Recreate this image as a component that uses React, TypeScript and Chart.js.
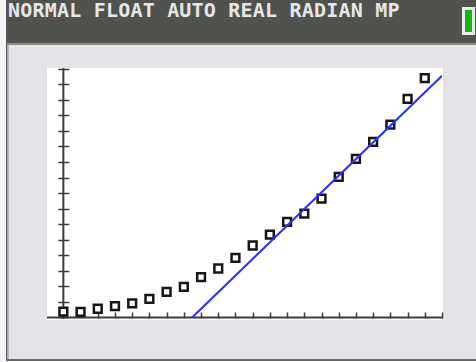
import React, { useEffect, useRef } from "react";
import { Chart, registerables } from "chart.js";

Chart.register(...registerables);

const statusText = "NORMAL FLOAT AUTO REAL RADIAN MP";
const xValues = [0, 1, 2, 3, 4, 5, 6, 7, 8, 9, 10, 11, 12, 13, 14, 15, 16, 17, 18, 19, 20, 21];
const yValues = [0.37, 0.36, 0.56, 0.73, 0.9, 1.2, 1.65, 1.97, 2.59, 3.15, 3.84, 4.63, 5.33, 6.15, 6.68, 7.65, 9.04, 10.2, 11.29, 12.4, 14.06, 15.4];
// regression line end points (as seen on screen)
const lineX = [7.48, 22];
const lineY = [0, 15.55];
// window settings
const xMin = -0.95;
const xMax = 22;
const yMin = -0.1;
const yMax = 16.05;
const xScl = 1;
const yScl = 1;

const BG = "#e6e3e8";
const HEADER = "#4f524d";

const screenPlugin = {
  id: "tiScreen",
  beforeDraw(chart: any) {
    const { ctx, chartArea, width, height } = chart;
    ctx.save();
    ctx.fillStyle = BG;
    ctx.fillRect(0, 0, width, height);
    // left bezel
    ctx.fillStyle = "#f4f3f5";
    ctx.fillRect(0, 0, 6, height);
    ctx.fillStyle = "#5a5a5c";
    ctx.fillRect(6, 0, 1.5, height);
    ctx.fillStyle = "#b8b6ba";
    ctx.fillRect(7.5, 0, 1.5, height);
    // bottom bezel
    ctx.fillStyle = "#6a696c";
    ctx.fillRect(6, height - 3, width, 2);
    ctx.fillStyle = "#f4f3f5";
    ctx.fillRect(0, height - 1, width, 1);
    // plot window
    ctx.fillStyle = "#ffffff";
    ctx.fillRect(chartArea.left, chartArea.top, chartArea.right - chartArea.left + 1, chartArea.bottom - chartArea.top + 1);
    ctx.restore();
  },
  beforeDatasetsDraw(chart: any) {
    const { ctx, chartArea, scales } = chart;
    const xs = scales.x;
    const ys = scales.y;
    const x0 = xs.getPixelForValue(0);
    const y0 = ys.getPixelForValue(0);
    ctx.save();
    ctx.strokeStyle = "#3c3c3c";
    ctx.lineWidth = 2;
    ctx.beginPath();
    ctx.moveTo(chartArea.left, y0);
    ctx.lineTo(chartArea.right + 1, y0);
    ctx.moveTo(x0, chartArea.top);
    ctx.lineTo(x0, chartArea.bottom);
    ctx.stroke();
    ctx.lineWidth = 1.5;
    ctx.beginPath();
    for (let v = Math.ceil(xMin / xScl) * xScl; v <= xMax + 1e-9; v += xScl) {
      const px = Math.round(xs.getPixelForValue(v)) + 0.5;
      ctx.moveTo(px, y0 - 5);
      ctx.lineTo(px, y0 + 1);
    }
    for (let v = 0; v <= yMax + 1e-9; v += yScl) {
      const py = Math.round(ys.getPixelForValue(v)) + 0.5;
      ctx.moveTo(x0 - 5, py);
      ctx.lineTo(x0 + 6, py);
    }
    ctx.stroke();
    ctx.restore();
  },
};

export default function App() {
  const ref = useRef<HTMLCanvasElement | null>(null);

  useEffect(() => {
    if (!ref.current) return;
    const chart = new Chart(ref.current, {
      type: "scatter",
      data: {
        datasets: [
          {
            type: "line",
            data: lineX.map((x, i) => ({ x, y: lineY[i] })),
            borderColor: "#2e2eff",
            borderWidth: 2,
            pointRadius: 0,
            showLine: true,
            fill: false,
            order: 0,
          } as any,
          {
            type: "scatter",
            data: xValues.map((x, i) => ({ x, y: yValues[i] })),
            pointStyle: "rect",
            pointRadius: 5.5,
            borderColor: "#161616",
            backgroundColor: "#ffffff",
            borderWidth: 2.5,
            order: 1,
            clip: false,
          } as any,
        ],
      },
      options: {
        responsive: false,
        animation: false,
        events: [],
        layout: { padding: { left: 47, top: 68, right: 34, bottom: 43 } },
        plugins: { legend: { display: false }, tooltip: { enabled: false } },
        scales: {
          x: { type: "linear", min: xMin, max: xMax, display: false },
          y: { type: "linear", min: yMin, max: yMax, display: false },
        },
      },
      plugins: [screenPlugin],
    });
    return () => chart.destroy();
  }, []);

  return (
    <div style={{ position: "fixed", left: 0, top: 0, width: 476, height: 362, overflow: "hidden" }}>
      <canvas ref={ref} width={476} height={362} style={{ position: "absolute", left: 0, top: 0, width: 476, height: 362 }} />
      <div
        style={{
          position: "absolute",
          left: 7,
          top: 0,
          width: 469,
          height: 43,
          background: HEADER,
          borderBottom: "2px solid #8d8e8b",
        }}
      >
        <div
          style={{
            position: "absolute",
            left: 1,
            top: 0,
            fontFamily: "'DejaVu Sans Mono', monospace",
            fontWeight: "bold",
            fontSize: 20,
            lineHeight: "20px",
            color: "#e6e6e6",
            whiteSpace: "nowrap",
            letterSpacing: 0.2,
          }}
        >
          {statusText}
        </div>
        <div
          style={{
            position: "absolute",
            left: 455,
            top: 7,
            width: 13,
            height: 28,
            background: "#e9ece6",
          }}
        >
          <div style={{ position: "absolute", left: 3, top: 3, width: 7, height: 22, background: "#14b514" }} />
        </div>
      </div>
    </div>
  );
}
